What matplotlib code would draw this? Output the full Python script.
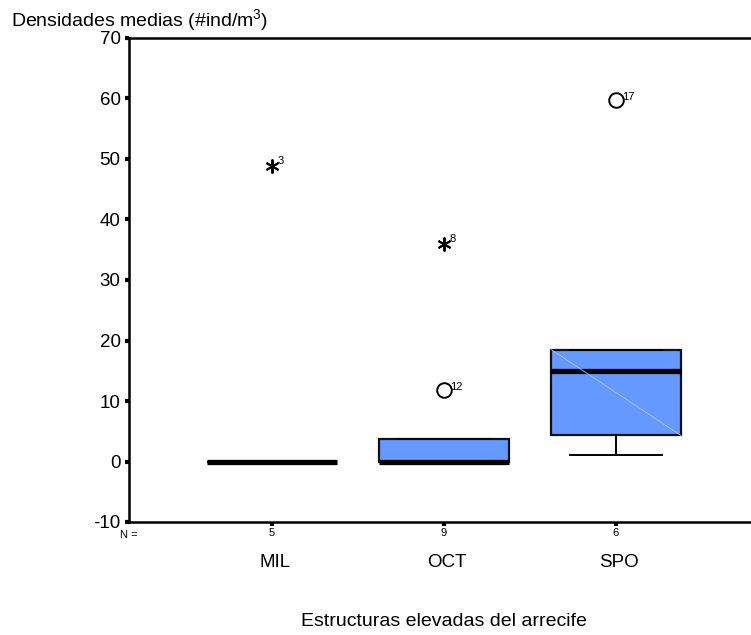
import matplotlib
matplotlib.use("Agg")
import matplotlib.pyplot as plt

plt.rcParams['font.family'] = ['Liberation Sans', 'DejaVu Sans']
plt.rcParams['mathtext.fontset'] = 'custom'
plt.rcParams['mathtext.rm'] = 'Liberation Sans'
plt.rcParams['mathtext.it'] = 'Liberation Sans'

categories = ["MIL", "OCT", "SPO"]
n_counts = [5, 9, 6]
q1 = [0.0, 0.0, 4.3]
medians = [0.0, 0.0, 15.0]
q3 = [0.0, 3.8, 18.5]
whislo = [0.0, 0.0, 1.0]
whishi = [0.0, 3.8, 18.5]
outlier_vals = [[], [11.8], [59.7]]
outlier_ids = [[], ["12"], ["17"]]
extreme_vals = [[48.8], [35.9], []]
extreme_ids = [["3"], ["8"], []]

yticks = [-10, 0, 10, 20, 30, 40, 50, 60, 70]

fig = plt.figure(figsize=(7.51, 6.35), dpi=100)
ax = fig.add_axes([129/751, 1 - 522/635, (759 - 129)/751, (522 - 38)/635])

positions = list(range(1, len(categories) + 1))
stats = []
for i, c in enumerate(categories):
    stats.append(dict(label=c, med=medians[i], q1=q1[i], q3=q3[i],
                      whislo=whislo[i], whishi=whishi[i], fliers=[]))

box_w = 0.755
ax.bxp(stats, positions=positions, widths=box_w, patch_artist=True,
       showfliers=False, showcaps=True,
       boxprops=dict(facecolor="#6699ff", edgecolor="#111111", linewidth=1.6),
       medianprops=dict(color="black", linewidth=3.8),
       whiskerprops=dict(color="black", linewidth=1.4),
       capprops=dict(color="black", linewidth=1.4),
       capwidths=0.53)

# faint diagonal rendering line across the largest box
for i, p in enumerate(positions):
    if q3[i] - q1[i] > 10:
        ax.plot([p - box_w/2, p + box_w/2], [q3[i], q1[i]],
                color="#a9c4ff", linewidth=0.6, zorder=3)

for i, p in enumerate(positions):
    for v, lab in zip(outlier_vals[i], outlier_ids[i]):
        ax.plot([p], [v], marker="o", markersize=10.5, markerfacecolor="none",
                markeredgecolor="black", markeredgewidth=1.4, clip_on=False)
        ax.annotate(lab, (p, v), xytext=(4.5, 2.5), textcoords="offset points",
                    fontsize=8, va="center", ha="left")
    for v, lab in zip(extreme_vals[i], extreme_ids[i]):
        ax.plot([p], [v], marker=(6, 2, 0), markersize=10,
                color="black", markeredgewidth=1.4, clip_on=False)
        ax.annotate(lab, (p, v), xytext=(4, 3.5), textcoords="offset points",
                    fontsize=8, va="center", ha="left")

ax.set_xlim(1 - 143/172, 1 + (759 - 272)/172)
ax.set_ylim(-10, 70)
ax.set_yticks(yticks)
ax.set_yticklabels([str(t) for t in yticks], fontsize=13.5)
ax.set_xticks(positions)
ax.set_xticklabels([str(n) for n in n_counts], fontsize=8)
ax.tick_params(axis="y", direction="out", length=3, width=3, pad=3)
ax.tick_params(axis="x", direction="out", length=3, width=3, pad=1.5)

for s in ["left", "top", "bottom"]:
    ax.spines[s].set_linewidth(1.8)
ax.spines["right"].set_visible(False)

# N = label
ax.text(0.0, -0.017, "N =", transform=ax.transAxes, fontsize=8,
        ha="center", va="top")

# category labels
for p, c in zip(positions, categories):
    ax.annotate(c, (p, 0), xycoords=("data", "axes fraction"),
                xytext=(2, -29.5), textcoords="offset points",
                ha="center", va="center", fontsize=13.5)

fig.text(444/751, 1 - 622/635, "Estructuras elevadas del arrecife",
         ha="center", va="center", fontsize=14)
fig.text(11/751, 1 - 20/635, "Densidades medias (#ind/m$^3$)",
         ha="left", va="center", fontsize=14)

fig.savefig("out.png", dpi=100)
